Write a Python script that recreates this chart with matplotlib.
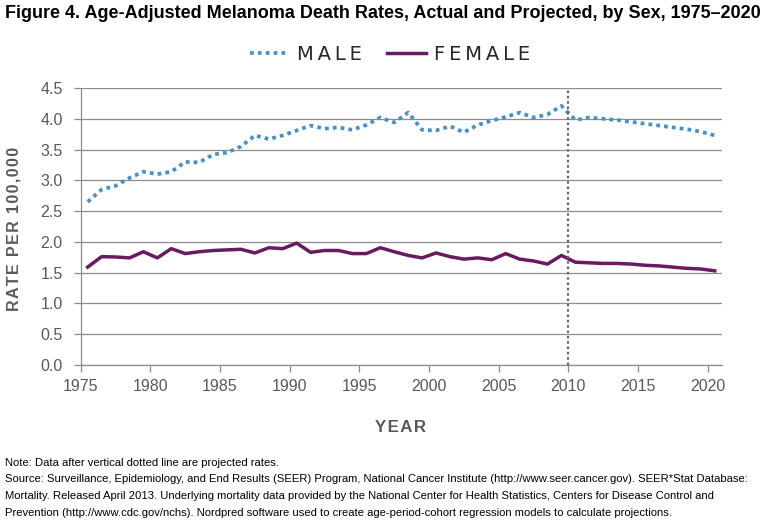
import matplotlib
matplotlib.use("Agg")
import matplotlib.pyplot as plt
import numpy as np

years = list(range(1975, 2021))
male = [2.65, 2.85, 2.91, 3.04, 3.14, 3.10, 3.14, 3.30, 3.29, 3.42,
        3.45, 3.55, 3.73, 3.67, 3.73, 3.81, 3.89, 3.84, 3.86, 3.82,
        3.90, 4.02, 3.94, 4.10, 3.82, 3.81, 3.88, 3.78, 3.90, 3.97,
        4.03, 4.10, 4.02, 4.07, 4.21, 3.98, 4.02, 4.00, 3.98, 3.95,
        3.92, 3.89, 3.86, 3.83, 3.79, 3.73]
female = [1.59, 1.76, 1.755, 1.74, 1.84, 1.74, 1.89, 1.81, 1.84, 1.86,
          1.87, 1.88, 1.82, 1.905, 1.89, 1.98, 1.83, 1.86, 1.86, 1.81,
          1.81, 1.905, 1.84, 1.78, 1.74, 1.82, 1.76, 1.72, 1.74, 1.71,
          1.81, 1.72, 1.69, 1.64, 1.78, 1.67, 1.66, 1.65, 1.65, 1.64,
          1.62, 1.61, 1.59, 1.57, 1.56, 1.53]
projection_start = 2010
xticks = [1975, 1980, 1985, 1990, 1995, 2000, 2005, 2010, 2015, 2020]
yticks = [0.0, 0.5, 1.0, 1.5, 2.0, 2.5, 3.0, 3.5, 4.0, 4.5]

title = "Figure 4. Age-Adjusted Melanoma Death Rates, Actual and Projected, by Sex, 1975\u20132020"
notes = [
    "Note: Data after vertical dotted line are projected rates.",
    "Source: Surveillance, Epidemiology, and End Results (SEER) Program, National Cancer Institute (http://www.seer.cancer.gov). SEER*Stat Database:",
    "Mortality. Released April 2013. Underlying mortality data provided by the National Center for Health Statistics, Centers for Disease Control and",
    "Prevention (http://www.cdc.gov/nchs). Nordpred software used to create age-period-cohort regression models to calculate projections.",
]

W, H = 776, 532
fig = plt.figure(figsize=(W / 100, H / 100), dpi=100)
fig.patch.set_facecolor("white")

def fx(px):
    return px / W

def fy(py):
    return 1 - py / H

ax = fig.add_axes([fx(80.7), fy(365), fx(721.7) - fx(80.7), fy(88) - fy(365)])

BLUE = "#4A90C2"
PURPLE = "#6A1B5F"
GRID = "#8C8C8C"
TXT = "#595959"

xs = np.array(years) + 0.5
lm, = ax.plot(xs, male, color=BLUE, lw=2.7, linestyle=(0, (1, 1.1)),
              dash_capstyle="butt", label="MALE", zorder=3)
lf, = ax.plot(xs, female, color=PURPLE, lw=2.5, label="FEMALE", zorder=3,
              solid_joinstyle="round")
ax.axvline(projection_start, color="#666666", lw=1.6, linestyle=(0, (1.1, 1.3)), zorder=4)

ax.set_xlim(1975, 2021)
ax.set_ylim(0, 4.5)
ax.set_xticks(xticks)
ax.set_xticklabels([str(t) for t in xticks])
ax.set_yticks(yticks)
ax.set_yticklabels([f"{t:.1f}" for t in yticks])
ax.yaxis.grid(True, color=GRID, lw=0.9)
ax.set_axisbelow(True)
for s in ["top", "right"]:
    ax.spines[s].set_visible(False)
for s in ["left", "bottom"]:
    ax.spines[s].set_color(GRID)
    ax.spines[s].set_linewidth(0.9)
ax.tick_params(axis="both", colors=GRID, labelcolor=TXT, labelsize=11.5,
               length=5, width=0.9, direction="out")
ax.tick_params(axis="y", pad=8)
ax.tick_params(axis="x", pad=5)
for lab in ax.get_xticklabels() + ax.get_yticklabels():
    lab.set_fontfamily("Liberation Sans")

renderer = fig.canvas.get_renderer()

def fit(t, target_w, vertical=False):
    bb = t.get_window_extent(renderer=renderer)
    cur = bb.height if vertical else bb.width
    t.set_fontsize(t.get_fontsize() * target_w / cur)

t = fig.text(fx(5), fy(14), title, fontsize=14, fontweight="bold",
             family="Liberation Sans", va="center", ha="left", color="black")
fit(t, 757)

nt = []
for i, line in enumerate(notes):
    nt.append(fig.text(fx(5), fy(463 + i * 16.5), line, fontsize=9,
                       family="Liberation Sans", va="center", ha="left", color="black"))
bb = nt[1].get_window_extent(renderer=renderer)
ns = 9 * 745 / bb.width
for n in nt:
    n.set_fontsize(ns)

ts = "\u200a"
xl = fig.text(fx(400.5), fy(427), ts.join("YEAR"), fontsize=12, fontweight="bold",
              family=["Liberation Sans", "DejaVu Sans"], color=TXT, ha="center", va="center")
fit(xl, 51)
yl = fig.text(fx(14), fy(229), ts.join("RATE PER 100,000"), fontsize=12, fontweight="bold",
              family=["Liberation Sans", "DejaVu Sans"], color=TXT, ha="center", va="center",
              rotation=90)
fit(yl, 162, vertical=True)

leg = fig.legend(handles=[lm, lf], labels=["\u2009".join("MALE"), "\u2009".join("FEMALE")],
                 loc="center", bbox_to_anchor=(fx(390), fy(54)), ncol=2,
                 frameon=False, prop={"family": "DejaVu Sans", "size": 14},
                 handlelength=2.0, handletextpad=0.4, columnspacing=1.3,
                 labelcolor="#262626")

fig.savefig("out.png", dpi=100, facecolor="white")
